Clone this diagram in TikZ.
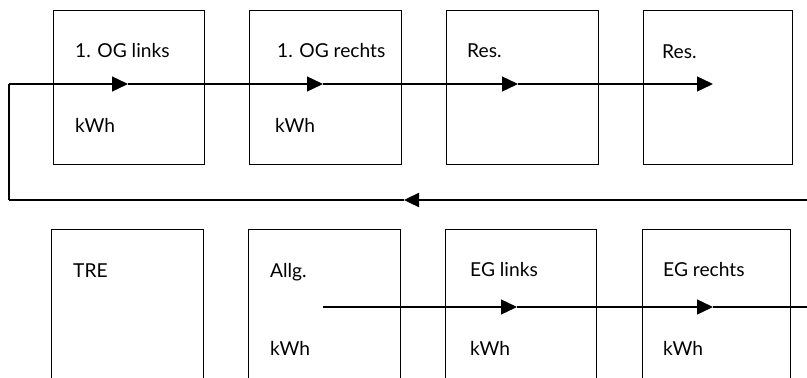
\documentclass[tikz,border=0pt]{standalone}
\usepackage{fontspec}
\setmainfont{Lato}
\usetikzlibrary{arrows.meta}
\begin{document}
\begin{tikzpicture}[x=1pt,y=-1pt,
  box/.style={draw,line width=1.4pt,inner sep=0pt,anchor=north west,minimum width=#1,minimum height=154pt},
  boxb/.style={draw,line width=1.4pt,inner sep=0pt,anchor=north west,minimum width=#1,minimum height=180pt},
  lbl/.style={anchor=base west,inner sep=0pt,font=\fontsize{19.2}{21}\selectfont},
  flow/.style={line width=1.4pt,-{Triangle[length=16pt,width=15pt]}},
  ret/.style={line width=2.4pt,-{Triangle[length=15pt,width=14pt]}},
  thin/.style={line width=1.4pt},
  thick/.style={line width=2.6pt}]
\clip (0,0) rectangle (807,378);
\fill[white] (0,0) rectangle (807,378);
% top boxes
\node[box=151pt] (b1) at (53,10) {};
\node[box=152pt] (b2) at (249,10) {};
\node[box=152pt] (b3) at (446,10) {};
\node[box=149pt] (b4) at (643,10) {};
% bottom boxes
\node[boxb=152pt] (c1) at (51,229) {};
\node[boxb=152pt] (c2) at (248,229) {};
\node[boxb=151pt] (c3) at (445,229) {};
\node[boxb=148pt] (c4) at (642,229) {};
% labels
\node[lbl] (l1) at (75,57) {1. OG links};
\node[lbl] (k1) at (75,132) {kWh};
\node[lbl] (l2) at (277,57) {1. OG rechts};
\node[lbl] (k2) at (275,132) {kWh};
\node[lbl] (l3) at (467,57) {Res.};
\node[lbl] (l4) at (662,58) {Res.};
\node[lbl] (m1) at (73,277) {TRE};
\node[lbl] (m2) at (270,277) {Allg.};
\node[lbl] (n2) at (270,355) {kWh};
\node[lbl] (m3) at (470,276) {EG links};
\node[lbl] (n3) at (470,355) {kWh};
\node[lbl] (m4) at (663,276) {EG rechts};
\node[lbl] (n4) at (663,355) {kWh};
% connector coordinates
\coordinate (r0) at (807,200);
\coordinate (ra) at (404,200);
\coordinate (rc) at (9,200);
\coordinate (s) at (9,84);
\coordinate (t1) at (128,84);
\coordinate (t2) at (323,84);
\coordinate (t3) at (518,84);
\coordinate (t4) at (713,84);
\coordinate (u0) at (323,307);
\coordinate (u1) at (517,307);
\coordinate (u2) at (713,307);
\coordinate (u3) at (807,307);
% return line
\draw[ret] (r0) -- (ra);
\draw[line width=2.4pt] (ra) -- (rc);
\draw[thin] (rc) -- (s);
% top flow
\draw[flow] (s) -- (t1);
\draw[flow] (t1) -- (t2);
\draw[flow] (t2) -- (t3);
\draw[flow] (t3) -- (t4);
% bottom flow
\draw[flow] (u0) -- (u1);
\draw[flow] (u1) -- (u2);
\draw[thick] (u2) -- (u3);
\end{tikzpicture}
\end{document}
